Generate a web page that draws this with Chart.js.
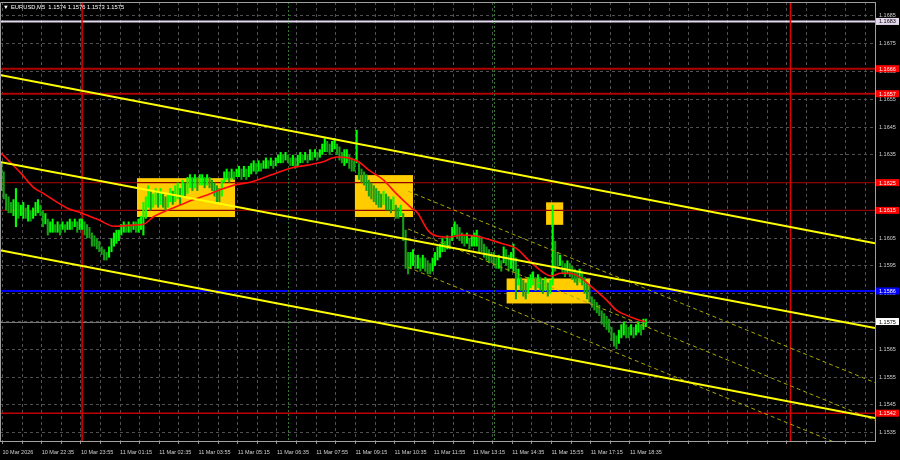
<!DOCTYPE html>
<html>
<head>
<meta charset="utf-8">
<script src="https://cdn.jsdelivr.net/npm/chart.js@4.4.1/dist/chart.umd.min.js"></script>
<style>
  html, body { margin: 0; padding: 0; background: #000; }
</style>
</head>
<body>
<canvas id="chart" width="900" height="460"></canvas>
<script>
// EURUSD M5, bars (high / low per bar)
const symbol = "EURUSD,M5";
const lastOHLC = [1.1574, 1.1576, 1.1573, 1.1575];

const highs = [
  1.1632,1.1629,1.1621,1.1620,1.1618,1.1619,1.1623,1.1618,1.1617,1.1618,
  1.1616,1.1617,1.1615,1.1616,1.1618,1.1619,1.1617,1.1615,1.1614,1.1612,
  1.1611,1.1612,1.1610,1.1611,1.1610,1.1611,1.1610,1.1611,1.1612,1.1611,
  1.1612,1.1611,1.1612,1.1612,1.1611,1.1610,1.1609,1.1607,1.1606,1.1605,
  1.1604,1.1602,1.1601,1.1600,1.1602,1.1605,1.1607,1.1608,1.1608,1.1610,
  1.1611,1.1610,1.1611,1.1610,1.1611,1.1611,1.1612,1.1613,1.1618,1.1620,
  1.1624,1.1622,1.1621,1.1623,1.1622,1.1623,1.1621,1.1620,1.1621,1.1623,
  1.1622,1.1624,1.1625,1.1623,1.1626,1.1625,1.1627,1.1628,1.1627,1.1628,
  1.1627,1.1628,1.1628,1.1627,1.1628,1.1627,1.1626,1.1625,1.1624,1.1623,
  1.1626,1.1629,1.1630,1.1629,1.1630,1.1629,1.1630,1.1631,1.1630,1.1631,
  1.1630,1.1631,1.1632,1.1633,1.1632,1.1633,1.1632,1.1633,1.1634,1.1633,
  1.1634,1.1633,1.1634,1.1635,1.1636,1.1635,1.1636,1.1635,1.1634,1.1635,
  1.1634,1.1635,1.1636,1.1635,1.1636,1.1635,1.1637,1.1636,1.1637,1.1636,
  1.1637,1.1639,1.1641,1.1640,1.1639,1.1640,1.1641,1.1639,1.1638,1.1636,
  1.1637,1.1637,1.1635,1.1634,1.1633,1.1644,1.1632,1.1630,1.1629,1.1628,
  1.1626,1.1625,1.1624,1.1623,1.1622,1.1621,1.1622,1.1621,1.1620,1.1619,
  1.1620,1.1617,1.1616,1.1617,1.1614,1.1608,1.1600,1.1600,1.1601,1.1599,
  1.1599,1.1598,1.1599,1.1598,1.1597,1.1596,1.1598,1.1600,1.1602,1.1603,
  1.1605,1.1604,1.1606,1.1605,1.1609,1.1611,1.1610,1.1609,1.1607,1.1606,
  1.1607,1.1605,1.1606,1.1607,1.1608,1.1606,1.1605,1.1603,1.1602,1.1601,
  1.1600,1.1600,1.1598,1.1599,1.1597,1.1602,1.1601,1.1599,1.1600,1.1603,
  1.1598,1.1594,1.1591,1.1590,1.1589,1.1591,1.1592,1.1593,1.1591,1.1592,
  1.1591,1.1590,1.1591,1.1589,1.1590,1.1617,1.1604,1.1600,1.1599,1.1597,
  1.1596,1.1597,1.1596,1.1595,1.1594,1.1593,1.1594,1.1593,1.1591,1.1589,
  1.1588,1.1584,1.1583,1.1582,1.1581,1.1579,1.1578,1.1577,1.1576,1.1573,
  1.1571,1.1570,1.1572,1.1574,1.1575,1.1574,1.1573,1.1574,1.1573,1.1574,
  1.1575,1.1574,1.1576,1.1576
];
const lows = [
  1.1622,1.1619,1.1615,1.1614,1.1614,1.1613,1.1609,1.1612,1.1613,1.1612,
  1.1612,1.1611,1.1611,1.1612,1.1613,1.1614,1.1613,1.1609,1.1610,1.1606,
  1.1607,1.1607,1.1607,1.1607,1.1606,1.1608,1.1607,1.1608,1.1608,1.1608,
  1.1609,1.1607,1.1608,1.1608,1.1606,1.1605,1.1605,1.1602,1.1602,1.1601,
  1.1600,1.1599,1.1597,1.1597,1.1598,1.1600,1.1602,1.1603,1.1604,1.1606,
  1.1607,1.1607,1.1607,1.1607,1.1608,1.1607,1.1607,1.1608,1.1606,1.1612,
  1.1616,1.1615,1.1616,1.1617,1.1616,1.1617,1.1616,1.1615,1.1616,1.1618,
  1.1617,1.1618,1.1619,1.1617,1.1620,1.1620,1.1621,1.1623,1.1622,1.1623,
  1.1622,1.1624,1.1624,1.1623,1.1624,1.1623,1.1622,1.1620,1.1618,1.1618,
  1.1620,1.1625,1.1626,1.1625,1.1626,1.1626,1.1627,1.1627,1.1626,1.1627,
  1.1626,1.1627,1.1628,1.1629,1.1628,1.1629,1.1629,1.1630,1.1630,1.1630,
  1.1631,1.1630,1.1631,1.1632,1.1632,1.1632,1.1633,1.1632,1.1631,1.1631,
  1.1630,1.1631,1.1632,1.1632,1.1633,1.1632,1.1633,1.1633,1.1634,1.1633,
  1.1634,1.1635,1.1636,1.1636,1.1635,1.1636,1.1637,1.1635,1.1633,1.1632,
  1.1631,1.1632,1.1630,1.1629,1.1629,1.1632,1.1626,1.1625,1.1624,1.1622,
  1.1620,1.1619,1.1618,1.1617,1.1616,1.1616,1.1617,1.1615,1.1615,1.1614,
  1.1615,1.1612,1.1612,1.1613,1.1604,1.1594,1.1592,1.1594,1.1595,1.1594,
  1.1594,1.1593,1.1594,1.1593,1.1592,1.1592,1.1593,1.1595,1.1597,1.1598,
  1.1600,1.1600,1.1601,1.1601,1.1604,1.1606,1.1605,1.1604,1.1603,1.1602,
  1.1603,1.1601,1.1602,1.1602,1.1602,1.1600,1.1600,1.1598,1.1597,1.1596,
  1.1596,1.1595,1.1594,1.1594,1.1593,1.1596,1.1595,1.1593,1.1594,1.1593,
  1.1583,1.1588,1.1586,1.1584,1.1583,1.1585,1.1587,1.1588,1.1586,1.1587,
  1.1586,1.1585,1.1586,1.1584,1.1585,1.1588,1.1593,1.1594,1.1595,1.1592,
  1.1591,1.1592,1.1591,1.1590,1.1589,1.1588,1.1589,1.1588,1.1585,1.1583,
  1.1582,1.1580,1.1579,1.1578,1.1577,1.1574,1.1573,1.1572,1.1571,1.1568,
  1.1566,1.1565,1.1567,1.1569,1.1570,1.1569,1.1569,1.1570,1.1569,1.1570,
  1.1571,1.1570,1.1572,1.1573
];

// moving average, read at a few bars
const maIndex = [0,8,13,17,27,33,40,46,54,58,62,68,73,78,84,89,95,102,110,118,
  125,131,137,142,146,150,156,161,167,170,174,178,183,188,194,200,205,210,216,223,
  225,228,232,236,240,247,251,255,259,263];
const maValue = [1.16356,1.16284,1.16234,1.16212,1.16158,1.16140,1.16115,1.16093,1.16097,1.16100,
  1.16126,1.16151,1.16169,1.16187,1.16205,1.16223,1.16241,1.16252,1.16277,1.16302,
  1.16313,1.16324,1.16342,1.16338,1.16324,1.16295,1.16259,1.16212,1.16162,1.16140,
  1.16079,1.16057,1.16054,1.16061,1.16057,1.16043,1.16029,1.16014,1.15964,1.15917,
  1.15914,1.15924,1.15924,1.15910,1.15881,1.15827,1.15791,1.15773,1.15759,1.15748];

const timeLabels = ["10 Mar 2026","10 Mar 22:35","10 Mar 23:55","11 Mar 01:15","11 Mar 02:35",
  "11 Mar 03:55","11 Mar 05:15","11 Mar 06:35","11 Mar 07:55","11 Mar 09:15","11 Mar 10:35",
  "11 Mar 11:55","11 Mar 13:15","11 Mar 14:35","11 Mar 15:55","11 Mar 17:15","11 Mar 18:35"];
const yTickValues = [1.1535,1.1545,1.1555,1.1565,1.1575,1.1585,1.1595,1.1605,1.1615,
  1.1625,1.1635,1.1645,1.1655,1.1665,1.1675,1.1685];

// trend channel (solid) and regression channel (dashed): [startBar, startPrice, endBar, endPrice]
const channelLines = [
  [-0.5, 1.16637, 356.5, 1.16032],
  [-0.5, 1.16324, 356.5, 1.15727],
  [-0.5, 1.16007, 356.5, 1.15403]
];
const regressionLines = [
  [166, 1.16219, 356.5, 1.15530],
  [166, 1.16083, 356.5, 1.15394],
  [166, 1.15945, 356.5, 1.15256]
];

// zones
const rectStart = [55.4, 144.3, 222.3, 206.2];
const rectEnd = [95.4, 168.0, 229.3, 240.2];
const rectTop = [1.16266, 1.16277, 1.16179, 1.15905];
const rectBottom = [1.16126, 1.16126, 1.16098, 1.15815];

// horizontal levels and vertical markers
const levelValues = [1.1683, 1.1666, 1.1657, 1.1625, 1.1615, 1.1586, 1.1542];
const redVerticals = [33, 322];
const sessionVerticals = [117, 201];

const levelStyle = [
  { line: '#e4d8ee', width: 2, box: '#e4d8ee', text: '#000' },
  { line: '#b00000', width: 2, box: '#ff0000', text: '#fff' },
  { line: '#b00000', width: 2, box: '#ff0000', text: '#fff' },
  { line: '#8c0000', width: 1.2, box: '#ff0000', text: '#fff' },
  { line: '#8c0000', width: 1.2, box: '#ff0000', text: '#fff' },
  { line: '#0000ff', width: 2, box: '#0000ff', text: '#fff' },
  { line: '#c00000', width: 1.5, box: '#ff0000', text: '#fff' }
];

const FONT = '"Liberation Sans", Arial, sans-serif';
const bullColor = '#00ff00';
const bearColor = '#16a016';

const candleData = highs.map((h, i) => ({ x: i, y: [lows[i], h] }));
const candleColors = highs.map((h, i) => {
  if (i === 0) return bullColor;
  const mid = (h + lows[i]) / 2;
  const prev = (highs[i - 1] + lows[i - 1]) / 2;
  return mid >= prev ? bullColor : bearColor;
});

function lineData(l) {
  return [{ x: l[0], y: l[1] }, { x: l[2], y: l[3] }];
}

const decor = {
  id: 'decor',
  beforeDatasetsDraw(chart) {
    const { ctx, chartArea: a, scales: { x, y } } = chart;
    ctx.save();
    ctx.beginPath();
    ctx.rect(a.left, a.top, a.width, a.height);
    ctx.clip();

    ctx.fillStyle = '#ffcc00';
    rectStart.forEach((s, k) => {
      const x0 = x.getPixelForValue(s), x1 = x.getPixelForValue(rectEnd[k]);
      const y0 = y.getPixelForValue(rectTop[k]), y1 = y.getPixelForValue(rectBottom[k]);
      ctx.fillRect(x0, y0, x1 - x0, y1 - y0);
    });

    // bid line
    let py = Math.round(y.getPixelForValue(lastOHLC[3])) + 0.5;
    ctx.strokeStyle = '#777';
    ctx.lineWidth = 1;
    ctx.beginPath(); ctx.moveTo(a.left, py); ctx.lineTo(a.right, py); ctx.stroke();

    levelValues.forEach((v, k) => {
      const st = levelStyle[k];
      const yy = y.getPixelForValue(v);
      ctx.strokeStyle = st.line;
      ctx.lineWidth = st.width;
      ctx.beginPath(); ctx.moveTo(a.left, yy); ctx.lineTo(a.right, yy); ctx.stroke();
    });

    ctx.strokeStyle = '#2f7a2f';
    ctx.lineWidth = 1;
    ctx.setLineDash([2, 2]);
    sessionVerticals.forEach(v => {
      const xx = Math.round(x.getPixelForValue(v)) + 0.5;
      ctx.beginPath(); ctx.moveTo(xx, a.top); ctx.lineTo(xx, a.bottom); ctx.stroke();
    });
    ctx.setLineDash([]);
    ctx.strokeStyle = '#e00000';
    ctx.lineWidth = 1.5;
    redVerticals.forEach(v => {
      const xx = x.getPixelForValue(v);
      ctx.beginPath(); ctx.moveTo(xx, a.top); ctx.lineTo(xx, a.bottom); ctx.stroke();
    });
    ctx.restore();
  },
  afterDraw(chart) {
    const { ctx, chartArea: a, scales: { y } } = chart;
    ctx.save();
    // frame top / left
    ctx.strokeStyle = '#a0a0a0';
    ctx.lineWidth = 1;
    ctx.beginPath();
    ctx.moveTo(a.left + 0.5, a.bottom); ctx.lineTo(a.left + 0.5, a.top + 0.5); ctx.lineTo(a.right, a.top + 0.5);
    ctx.stroke();

    // price tags on the axis
    ctx.font = '5.5px ' + FONT;
    ctx.textBaseline = 'middle';
    ctx.textAlign = 'left';
    const tag = (v, box, text) => {
      const yy = y.getPixelForValue(v);
      ctx.fillStyle = box;
      ctx.fillRect(a.right + 1, yy - 3.5, 23, 7);
      ctx.fillStyle = text;
      ctx.fillText(v.toFixed(4), a.right + 4, yy + 0.5);
    };
    levelValues.forEach((v, k) => tag(v, levelStyle[k].box, levelStyle[k].text));
    tag(lastOHLC[3], '#ffffff', '#000');

    // title
    ctx.fillStyle = '#fff';
    ctx.font = '5.8px ' + FONT;
    ctx.fillText('\u25BC', 3, 7);
    ctx.fillText(symbol + '  ' + lastOHLC.map(v => v.toFixed(4)).join(' '), 11, 7);
    ctx.restore();
  }
};

new Chart(document.getElementById('chart'), {
  type: 'bar',
  data: {
    datasets: [
      ...channelLines.map(l => ({
        type: 'line', data: lineData(l), borderColor: '#ffff00', borderWidth: 2,
        pointRadius: 0, fill: false, order: 1
      })),
      ...regressionLines.map(l => ({
        type: 'line', data: lineData(l), borderColor: '#a8a800', borderWidth: 1,
        borderDash: [4, 3], pointRadius: 0, fill: false, order: 1
      })),
      {
        type: 'line', data: maIndex.map((i, k) => ({ x: i, y: maValue[k] })),
        borderColor: '#ff1010', borderWidth: 1.6, pointRadius: 0, fill: false,
        cubicInterpolationMode: 'monotone', order: 2
      },
      {
        type: 'bar', data: candleData, backgroundColor: candleColors,
        barPercentage: 0.85, categoryPercentage: 1, grouped: false, order: 3
      }
    ]
  },
  options: {
    responsive: false,
    devicePixelRatio: 1,
    animation: false,
    layout: { padding: { top: 2, left: 0, right: 0, bottom: 0 } },
    plugins: { legend: { display: false }, tooltip: { enabled: false } },
    scales: {
      x: {
        type: 'linear', min: -0.5, max: 356.5, offset: false,
        afterBuildTicks: s => {
          const t = [];
          for (let v = 0; v <= 352; v += 8) t.push({ value: v + 0.5 });
          s.ticks = t;
        },
        afterFit: s => {
          s.height = 19;
          s.paddingLeft = 0; s.paddingRight = 0;
        },
        ticks: {
          autoSkip: false, maxRotation: 0, minRotation: 0, align: 'start', padding: 5,
          color: '#d0d0d0', font: { family: FONT, size: 5.5 },
          callback: v => {
            const k = Math.round(v - 0.5);
            return (k % 16 === 0 && k / 16 < timeLabels.length) ? timeLabels[k / 16] : '';
          }
        },
        grid: { color: '#505050', tickColor: '#909090', tickLength: 3, offset: false },
        border: { display: true, color: '#a0a0a0', dash: [3, 3] }
      },
      y: {
        position: 'right', min: 1.1532, max: 1.1690,
        afterBuildTicks: s => { s.ticks = yTickValues.map(v => ({ value: v })); },
        afterFit: s => {
          s.width = 25;
          s.paddingTop = 0; s.paddingBottom = 0;
        },
        ticks: {
          padding: 4, color: '#d0d0d0', font: { family: FONT, size: 5.5 },
          callback: v => v.toFixed(4)
        },
        grid: { color: '#505050', drawTicks: false },
        border: { display: true, color: '#a0a0a0', dash: [3, 3] }
      }
    }
  },
  plugins: [decor]
});
</script>
</body>
</html>
